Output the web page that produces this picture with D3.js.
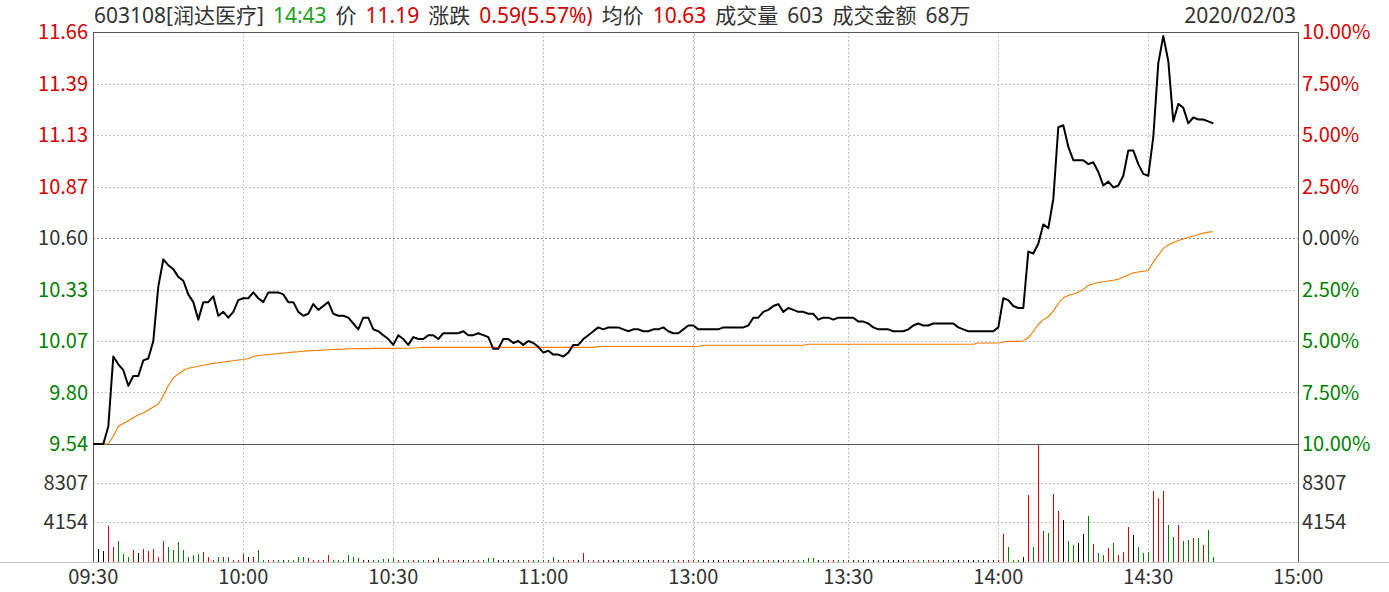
<!DOCTYPE html>
<html><head><meta charset="utf-8">
<script src="https://cdn.jsdelivr.net/npm/d3@7"></script>
<style>
html,body{margin:0;padding:0;background:#fff;}
svg{display:block;font-family:"Noto Sans CJK SC","Noto Sans",sans-serif;}
</style></head><body>
<svg id="chart" width="1389" height="592"></svg>
<script>
// ---------------- DATA ----------------
const preClose = 10.60;
const pctTickValues = [0.10, 0.075, 0.05, 0.025, 0, -0.025, -0.05, -0.075, -0.10];
const priceTickLabels = ["11.66","11.39","11.13","10.87","10.60","10.33","10.07","9.80","9.54"];
const pctTickLabels = ["10.00%","7.50%","5.00%","2.50%","0.00%","2.50%","5.00%","7.50%","10.00%"];
const volTickValues = [8307, 4154];
const volMax = 12461;
const timeLabels = ["09:30","10:00","10:30","11:00","13:00","13:30","14:00","14:30","15:00"];
const timeSlots = [0, 30, 60, 90, 120, 151, 181, 211, 241];

const headerParts = [
  ["603108[润达医疗]", "base"], ["14:43", "down"], ["价", "base"], ["11.19", "up"],
  ["涨跌", "base"], ["0.59(5.57%)", "up"], ["均价", "base"], ["10.63", "up"],
  ["成交量", "base"], ["603", "base"], ["成交金额", "base"], ["68万", "base"]
];
const dateLabel = "2020/02/03";

// morning 09:30-11:30 (121 slots)
const priceAM = [
 9.54,9.54,9.54,9.63,9.99,9.95,9.92,9.84,9.89,9.89,
 9.97,9.98,10.07,10.35,10.49,10.46,10.44,10.40,10.38,10.31,
 10.27,10.18,10.27,10.27,10.30,10.20,10.22,10.19,10.22,10.28,
 10.29,10.29,10.32,10.29,10.27,10.32,10.32,10.32,10.31,10.27,
 10.27,10.22,10.20,10.21,10.26,10.23,10.25,10.27,10.21,10.20,
 10.20,10.19,10.16,10.13,10.19,10.19,10.13,10.12,10.10,10.08,
 10.05,10.10,10.08,10.05,10.09,10.08,10.08,10.10,10.10,10.08,
 10.11,10.11,10.11,10.11,10.12,10.10,10.10,10.11,10.10,10.09,
 10.03,10.03,10.08,10.08,10.06,10.07,10.05,10.07,10.06,10.04,
 10.01,10.02,10.00,10.00,9.99,10.01,10.05,10.05,10.08,10.10,
 10.12,10.14,10.13,10.14,10.14,10.14,10.13,10.12,10.13,10.13,
 10.12,10.12,10.13,10.13,10.14,10.12,10.11,10.11,10.13,10.15,
 10.15
];
// afternoon 13:00-14:43 (104 slots)
const pricePM = [
 10.13,10.13,10.13,10.13,10.13,10.14,10.14,10.14,10.14,10.14,
 10.15,10.19,10.19,10.22,10.23,10.25,10.26,10.22,10.24,10.23,
 10.22,10.22,10.21,10.21,10.18,10.19,10.19,10.18,10.19,10.19,
 10.19,10.19,10.17,10.17,10.16,10.14,10.13,10.13,10.13,10.12,
 10.12,10.12,10.13,10.15,10.16,10.15,10.15,10.16,10.16,10.16,
 10.16,10.16,10.14,10.13,10.12,10.12,10.12,10.12,10.12,10.12,
 10.14,10.29,10.28,10.25,10.24,10.24,10.53,10.52,10.57,10.67,
 10.65,10.80,11.17,11.18,11.07,11.00,11.00,11.00,10.98,10.99,
 10.94,10.87,10.89,10.86,10.87,10.92,11.05,11.05,10.98,10.93,
 10.92,11.12,11.50,11.64,11.51,11.20,11.29,11.27,11.19,11.22,
 11.21,11.21,11.20,11.19
];
const avgAM = [
 9.54,9.54,9.54,9.54,9.58,9.63,9.645,9.66,9.675,9.69,
 9.70,9.715,9.73,9.745,9.79,9.84,9.88,9.90,9.918,9.93,
 9.935,9.94,9.945,9.95,9.955,9.958,9.962,9.965,9.968,9.972,
 9.975,9.98,9.99,9.995,9.998,10.0,10.003,10.005,10.008,10.01,
 10.013,10.015,10.017,10.019,10.021,10.022,10.024,10.025,10.026,10.027,
 10.028,10.03,10.03,10.031,10.031,10.031,10.032,10.032,10.032,10.032,
 10.032,10.033,10.033,10.033,10.034,10.035,10.037,10.037,10.037,10.037,
 10.037,10.037,10.037,10.037,10.037,10.037,10.037,10.037,10.037,10.037,
 10.037,10.037,10.037,10.037,10.037,10.037,10.037,10.037,10.037,10.037,
 10.037,10.037,10.037,10.037,10.037,10.037,10.037,10.037,10.037,10.037,
 10.037,10.042,10.042,10.042,10.042,10.042,10.042,10.042,10.042,10.042,
 10.042,10.042,10.042,10.042,10.042,10.042,10.042,10.042,10.042,10.042,
 10.042
];
const avgPM = [
 10.043,10.048,10.048,10.048,10.048,10.048,10.048,10.048,10.048,10.048,
 10.048,10.048,10.048,10.048,10.048,10.048,10.048,10.048,10.048,10.048,
 10.048,10.048,10.053,10.053,10.053,10.053,10.053,10.053,10.053,10.053,
 10.053,10.053,10.053,10.053,10.053,10.053,10.053,10.053,10.053,10.053,
 10.053,10.053,10.053,10.053,10.053,10.053,10.053,10.053,10.053,10.053,
 10.053,10.053,10.053,10.053,10.053,10.053,10.06,10.06,10.06,10.06,
 10.06,10.065,10.068,10.068,10.068,10.07,10.088,10.12,10.155,10.18,
 10.195,10.224,10.263,10.293,10.304,10.312,10.321,10.335,10.356,10.365,
 10.371,10.375,10.379,10.383,10.388,10.399,10.41,10.421,10.425,10.429,
 10.433,10.476,10.512,10.547,10.564,10.577,10.587,10.595,10.604,10.61,
 10.618,10.625,10.63,10.632
];
const volAM = [
 6180,1290,1070,3750,1490,2130,750,530,1170,880,
 1290,1070,1290,430,2130,1490,1170,2020,1170,530,
 640,750,960,530,210,430,430,530,210,110,
 750,430,430,1170,110,110,110,110,110,210,
 200,480,530,370,210,210,210,640,210,210,
 210,640,480,370,210,210,130,210,270,270,
 370,210,110,110,110,210,110,110,210,370,
 210,210,210,210,110,110,210,110,110,370,
 370,210,110,210,210,210,110,210,210,110,
 110,210,480,110,210,210,210,210,880,210,
 110,210,110,210,210,210,110,210,210,210,
 110,210,210,110,110,110,110,210,210,110,
 110
];
const volPM = [
 210,110,110,110,110,210,210,210,110,110,
 210,210,110,210,210,110,110,110,110,110,
 110,210,330,330,110,110,210,210,110,110,
 110,110,110,110,110,110,110,110,110,110,
 110,110,110,110,110,110,110,110,110,110,
 110,110,110,110,110,110,110,110,110,110,
 180,2870,1490,210,110,530,7010,1490,12461,3190,
 2970,7110,5310,4360,2130,1700,1910,2870,4780,1810,
 850,640,1380,1910,640,1060,3610,2760,1490,850,
 1060,7440,6700,7440,3830,2550,3830,2130,2230,2440,
 2440,1700,3290,430
];
// r = up, g = down, k = unchanged
const dirAM = "gkkrrgggrk" + "rrrrrggggg" + "ggrrrgrgrr" + "rkrggrrgkg" + "gggrrrrrgg" +
              "ggggkkgggg" + "grggrggrkg" + "rrrrkgrrgg" + "gkrkgrgrgg" + "grgrgrrkrr" +
              "rrkrkkggrk" + "gkrrrkgrrr" + "r";
const dirPM = "gkkkkrkrgk" + "rrgrrgkrgr" + "ggggkgrrgr" + "gkgkgkgkkk" + "kkrrggrrgk" +
              "ggkgkkgkkk" + "rrgggkrgrr" + "grrkggkkgr" + "ggrgrrrkgg" + "grrrggrggr" + "grgg";

// ---------------- BUILD ----------------
(function () {
const AM_SLOTS = 121;
const slotsAM = d3.range(priceAM.length);
const slotsPM = d3.range(pricePM.length).map(m => AM_SLOTS + m);
const slots = slotsAM.concat(slotsPM);
const prices = priceAM.concat(pricePM);
const avgs = avgAM.concat(avgPM);
const vols = volAM.concat(volPM);
const dirs = (dirAM + dirPM).split("");

const C = {
  up: "#e00000", down: "#008000", flat: "#000000",
  upText: "#d40000", downText: "#008000", base: "#333333",
  headerDown: "#20a020",
  frame: "#555555", grid: "#c4c4c4", gridMid: "#8a8a8a", bottomLine: "#c8c8c8",
  avg: "#f57a00"
};

const pL = 93.3, pR = 1298.3;
const pT = 32, pM = 444, pB = 561.5;

const x = d3.scaleLinear().domain([0, 241]).range([pL, pR]);
const y = d3.scaleLinear().domain([preClose * 0.9, preClose * 1.1]).range([pM, pT]);
const yv = d3.scaleLinear().domain([0, volMax]).range([pB, pM]);

const svg = d3.select("#chart");

const gGrid = svg.append("g").attr("shape-rendering", "crispEdges");
pctTickValues.forEach((p, i) => {
  if (i === 0 || i === pctTickValues.length - 1) return;
  const yy = Math.round(y(preClose * (1 + p))) + 0.5;
  gGrid.append("line").attr("x1", pL).attr("x2", pR).attr("y1", yy).attr("y2", yy)
    .attr("stroke", p === 0 ? C.gridMid : C.grid).attr("stroke-width", 1)
    .attr("stroke-dasharray", "2,2");
});
volTickValues.forEach(v => {
  const yy = Math.round(yv(v)) + 0.5;
  gGrid.append("line").attr("x1", pL).attr("x2", pR).attr("y1", yy).attr("y2", yy)
    .attr("stroke", C.grid).attr("stroke-dasharray", "2,2");
});
timeSlots.forEach((s, i) => {
  if (i === 0 || i === timeSlots.length - 1) return;
  const xx = Math.round(x(s)) + 0.5;
  gGrid.append("line").attr("x1", xx).attr("x2", xx).attr("y1", pT).attr("y2", pB)
    .attr("stroke", C.grid).attr("stroke-dasharray", "2,2");
  if (s === 120) {
    gGrid.append("line").attr("x1", xx + 1).attr("x2", xx + 1).attr("y1", pT).attr("y2", pB)
      .attr("stroke", C.grid).attr("stroke-dasharray", "2,2").attr("stroke-dashoffset", 2);
  }
});

const gVol = svg.append("g").attr("shape-rendering", "crispEdges");
gVol.selectAll("line").data(slots).join("line")
  .attr("x1", (s) => Math.round(x(s)) + 0.5)
  .attr("x2", (s) => Math.round(x(s)) + 0.5)
  .attr("y1", Math.round(yv(0)))
  .attr("y2", (s, i) => Math.round(yv(vols[i])))
  .attr("stroke", (s, i) => dirs[i] === "r" ? C.up : dirs[i] === "g" ? C.down : C.flat)
  .attr("stroke-width", 1);

const gFrame = svg.append("g").attr("shape-rendering", "crispEdges");
gFrame.append("line").attr("x1", 0).attr("x2", 1389).attr("y1", Math.round(pB) + 0.5).attr("y2", Math.round(pB) + 0.5).attr("stroke", C.bottomLine);
gFrame.append("line").attr("x1", pL).attr("x2", pR).attr("y1", pT + 0.5).attr("y2", pT + 0.5).attr("stroke", C.frame);
gFrame.append("line").attr("x1", pL).attr("x2", pR).attr("y1", pM + 0.5).attr("y2", pM + 0.5).attr("stroke", C.frame);
gFrame.append("line").attr("x1", Math.round(pL) + 0.5).attr("x2", Math.round(pL) + 0.5).attr("y1", pT).attr("y2", pB).attr("stroke", C.frame);
gFrame.append("line").attr("x1", Math.round(pR) + 0.5).attr("x2", Math.round(pR) + 0.5).attr("y1", pT).attr("y2", pB).attr("stroke", C.frame);

const lineGen = d3.line().x(d => x(d[0])).y(d => y(d[1]));
svg.append("path").datum(slots.map((s, i) => [s, avgs[i]]))
  .attr("d", lineGen).attr("fill", "none").attr("stroke", C.avg).attr("stroke-width", 1.1);
svg.append("path").datum(slots.map((s, i) => [s, prices[i]]))
  .attr("d", lineGen).attr("fill", "none").attr("stroke", "#000").attr("stroke-width", 2)
  .attr("stroke-linejoin", "round");

const fs = 20;
const gAx = svg.append("g").attr("font-size", fs);
pctTickValues.forEach((p, i) => {
  const yy = y(preClose * (1 + p));
  const col = p > 0 ? C.upText : p < 0 ? C.downText : C.base;
  gAx.append("text").attr("x", 88).attr("y", yy).attr("dy", "0.35em")
    .attr("text-anchor", "end").attr("fill", col).text(priceTickLabels[i]);
  gAx.append("text").attr("x", 1302).attr("y", yy).attr("dy", "0.35em")
    .attr("text-anchor", "start").attr("fill", col).text(pctTickLabels[i]);
});
volTickValues.forEach(v => {
  gAx.append("text").attr("x", 88).attr("y", yv(v)).attr("dy", "0.35em")
    .attr("text-anchor", "end").attr("fill", C.base).text(v);
  gAx.append("text").attr("x", 1302).attr("y", yv(v)).attr("dy", "0.35em")
    .attr("text-anchor", "start").attr("fill", C.base).text(v);
});
timeSlots.forEach((s, i) => {
  gAx.append("text").attr("x", x(s)).attr("y", 577).attr("dy", "0.35em")
    .attr("text-anchor", "middle").attr("fill", C.base).text(timeLabels[i]);
});

const gHead = svg.append("g").attr("font-size", 21)
  .attr("font-family", '"Noto Sans","Noto Sans CJK SC",sans-serif');
let hx = 94;
headerParts.forEach(([t, kind]) => {
  const el = gHead.append("text").attr("x", hx).attr("y", 16).attr("dy", "0.35em")
    .attr("fill", kind === "up" ? C.upText : kind === "down" ? C.headerDown : C.base).text(t);
  hx += el.node().getComputedTextLength() + 9;
});
gHead.append("text").attr("x", 1296).attr("y", 16).attr("dy", "0.35em")
  .attr("text-anchor", "end").attr("fill", C.base).text(dateLabel);
})();
</script>
</body></html>
